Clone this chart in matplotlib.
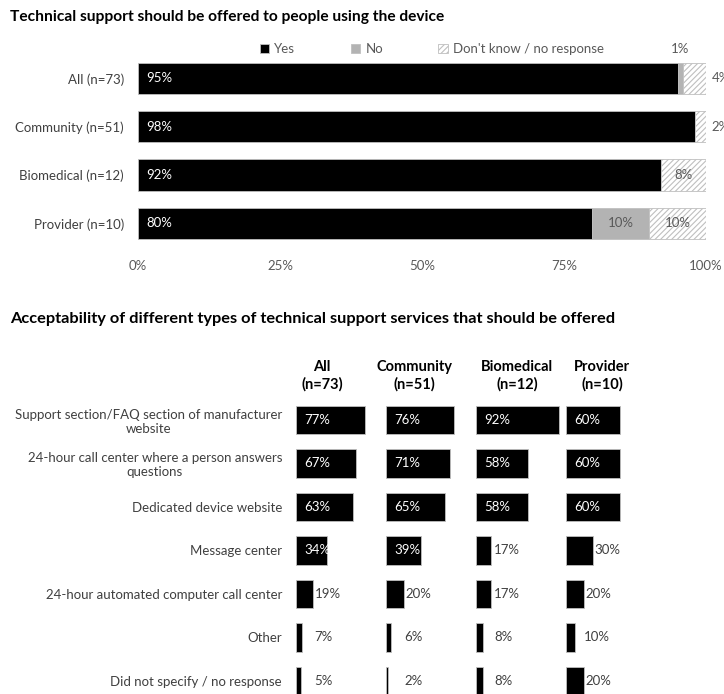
import matplotlib.pyplot as plt
import matplotlib as mpl

plt.rcParams['font.family'] = ['Lato', 'DejaVu Sans']
mpl.rcParams['hatch.linewidth'] = 0.8

# Top chart data
groups_top = ["All (n=73)", "Community (n=51)", "Biomedical (n=12)", "Provider (n=10)"]
yes = [95, 98, 92, 80]
no = [1, 0, 0, 10]
dont_know = [4, 2, 8, 10]
x_ticks = [0, 25, 50, 75, 100]

# Bottom chart data
services = ["Support section/FAQ section of manufacturer\nwebsite",
            "24-hour call center where a person answers\nquestions",
            "Dedicated device website",
            "Message center",
            "24-hour automated computer call center",
            "Other",
            "Did not specify / no response"]
columns = ["All\n(n=73)", "Community\n(n=51)", "Biomedical\n(n=12)", "Provider\n(n=10)"]
acc_all = [77, 67, 63, 34, 19, 7, 5]
acc_community = [76, 71, 65, 39, 20, 6, 2]
acc_biomedical = [92, 58, 58, 17, 17, 8, 8]
acc_provider = [60, 60, 60, 30, 20, 10, 20]
acc = [acc_all, acc_community, acc_biomedical, acc_provider]

W, H = 724, 694
fig = plt.figure(figsize=(W / 100, H / 100), dpi=100)

dark = '#404040'
label_gray = '#595959'

# ---- top chart ----
ax1 = fig.add_axes([138 / W, 1 - 247.7 / H, 568 / W, 193.6 / H])
ypos = range(len(groups_top))
h1 = 0.65
b_yes = ax1.barh(ypos, yes, height=h1, color='black', edgecolor='#bfbfbf', lw=0.6, label='Yes')
b_no = ax1.barh(ypos, no, left=yes, height=h1, color='#b3b3b3', edgecolor='#bfbfbf', lw=0.6, label='No')
left_dk = [a + b for a, b in zip(yes, no)]
b_dk = ax1.barh(ypos, dont_know, left=left_dk, height=h1, color='white', edgecolor='#bfbfbf',
                hatch='//////', lw=0.6, label="Don't know / no response")

for i in ypos:
    ax1.text(1.5, i, f"{yes[i]}%", color='white', va='center', ha='left', fontsize=9.5)
    if no[i] >= 5:
        ax1.text(yes[i] + no[i] / 2, i, f"{no[i]}%", color=label_gray, va='center', ha='center', fontsize=9.5)
    elif no[i] > 0:
        ax1.text(yes[i] + no[i] / 2, i - 0.6, f"{no[i]}%", color=label_gray, va='center', ha='center', fontsize=9.5)
    if dont_know[i] >= 5:
        ax1.text(left_dk[i] + dont_know[i] / 2, i, f"{dont_know[i]}%", color=label_gray, va='center',
                 ha='center', fontsize=9.5)
    else:
        ax1.text(101, i, f"{dont_know[i]}%", color=label_gray, va='center', ha='left', fontsize=9.5)

ax1.set_xlim(0, 100)
ax1.set_ylim(len(groups_top) - 0.5, -0.5)
ax1.set_yticks(list(ypos))
ax1.set_yticklabels(groups_top, fontsize=9.5, color=dark)
ax1.set_xticks(x_ticks)
ax1.set_xticklabels([f"{t}%" for t in x_ticks], fontsize=9.5, color=label_gray)
ax1.tick_params(length=0, pad=10)
ax1.tick_params(axis='x', pad=9)
for s in ax1.spines.values():
    s.set_visible(False)

fig.legend(handles=[b_yes, b_no, b_dk], loc='center left', bbox_to_anchor=(248 / W, 1 - 49 / H),
           ncol=3, frameon=False, fontsize=9.5, handlelength=0.7, handleheight=0.7,
           handletextpad=0.4, columnspacing=4.2, labelcolor=label_gray)

fig.text(10 / W, 1 - 17 / H, "Technical support should be offered to people using the device",
         fontsize=11.2, fontweight='bold', va='center', ha='left')

# ---- bottom chart ----
fig.text(10 / W, 1 - 319 / H, "Acceptability of different types of technical support services that should be offered",
         fontsize=11.8, fontweight='bold', va='center', ha='left')

ax2 = fig.add_axes([296 / W, 1 - 702.7 / H, 360 / W, 304.5 / H])
rows = range(len(services))
h2 = 0.66
header_x = [29, 32, 46, 40]
for c, vals in enumerate(acc):
    base = c * 100
    ax2.barh(rows, vals, left=base, height=h2, color='black', edgecolor='#bfbfbf', lw=0.6)
    for r in rows:
        v = vals[r]
        if v > 30:
            ax2.text(base + 9, r, f"{v}%", color='white', va='center', ha='left', fontsize=9.5)
        else:
            ax2.text(base + max(v + 2, 20), r, f"{v}%", color=dark, va='center', ha='left', fontsize=9.5)
    ax2.text(base + header_x[c], -1.02, columns[c], ha='center', va='center', fontsize=10.5,
             fontweight='bold', linespacing=1.3)

ax2.set_xlim(0, 400)
ax2.set_ylim(len(services) - 0.5, -0.5)
ax2.set_yticks(list(rows))
ax2.set_yticklabels(services, fontsize=9.5, color=dark, multialignment='center')
ax2.set_xticks([])
ax2.tick_params(length=0, pad=10)
for s in ax2.spines.values():
    s.set_visible(False)

fig.savefig('out.png', dpi=100)
